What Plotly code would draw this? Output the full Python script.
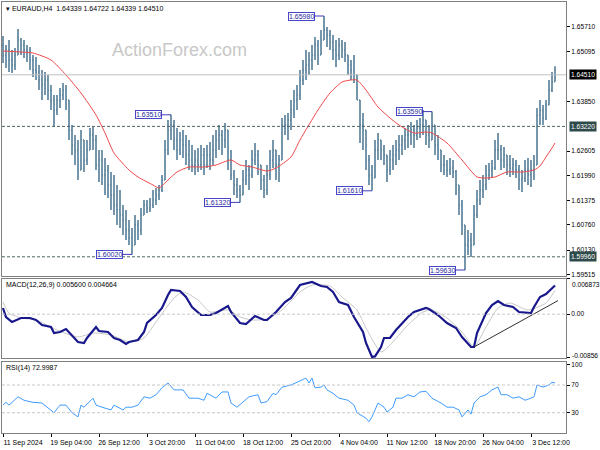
import plotly.graph_objects as go
from plotly.subplots import make_subplots

SYMBOL = "EURAUD,H4"
FIRST_OPEN = 1.65255

HIGHS = [
    1.65480, 1.65255, 1.65380, 1.65130, 1.65180, 1.65655, 1.65430, 1.65380, 1.65255, 1.65205,
    1.65005, 1.64955, 1.64755, 1.64630, 1.64580, 1.64505, 1.64255, 1.64005, 1.64005, 1.64180,
    1.64305, 1.64255, 1.63880, 1.63255, 1.63005, 1.62880, 1.63130, 1.62880, 1.62880, 1.63180,
    1.63205, 1.63005, 1.62630, 1.62630, 1.62430, 1.62255, 1.62080, 1.62005, 1.61755, 1.61630,
    1.61255, 1.61130, 1.60880, 1.60680, 1.61005, 1.60880, 1.61180, 1.61380, 1.61380, 1.61430,
    1.61630, 1.61680, 1.61755, 1.62005, 1.62880, 1.63380, 1.63510, 1.63380, 1.63180, 1.63080,
    1.63130, 1.63005, 1.62880, 1.62755, 1.62630, 1.62680, 1.62755, 1.62680, 1.62755, 1.62830,
    1.63005, 1.63130, 1.63255, 1.63130, 1.63305, 1.63130, 1.62630, 1.62130, 1.61930, 1.61755,
    1.62130, 1.62380, 1.62255, 1.62630, 1.62805, 1.62630, 1.62255, 1.62005, 1.62255, 1.62630,
    1.62880, 1.62630, 1.62505, 1.63430, 1.63505, 1.63555, 1.63880, 1.64130, 1.64255, 1.64630,
    1.64880, 1.65130, 1.65080, 1.65255, 1.65455, 1.65380, 1.65630, 1.65980, 1.65705, 1.65630,
    1.65505, 1.65380, 1.65430, 1.65380, 1.65330, 1.65005, 1.64880, 1.65005, 1.64505, 1.63880,
    1.63555, 1.63130, 1.62505, 1.62255, 1.62880, 1.63055, 1.62880, 1.62755, 1.62505, 1.62630,
    1.62755, 1.62880, 1.63005, 1.63005, 1.63180, 1.63255, 1.63330, 1.63255, 1.63380, 1.63430,
    1.63630, 1.63380, 1.63255, 1.63590, 1.63255, 1.63005, 1.62630, 1.62505, 1.62380, 1.62430,
    1.62380, 1.62130, 1.61755, 1.61380, 1.60755, 1.60630, 1.60555, 1.61255, 1.61630, 1.61880,
    1.62005, 1.62255, 1.62305, 1.62380, 1.62880, 1.63055, 1.62755, 1.62705, 1.62505, 1.62505,
    1.62430, 1.62380, 1.62255, 1.62130, 1.62380, 1.62430, 1.62380, 1.62505, 1.63680, 1.63880,
    1.63755, 1.63880, 1.64380, 1.64580, 1.64722,
]
LOWS = [
    1.64805, 1.64680, 1.64580, 1.64555, 1.64630, 1.65005, 1.65005, 1.64930, 1.64830, 1.64630,
    1.64455, 1.64380, 1.64130, 1.63880, 1.64005, 1.63880, 1.63630, 1.63205, 1.63505, 1.63680,
    1.63880, 1.63630, 1.62880, 1.62505, 1.62255, 1.61880, 1.62130, 1.62080, 1.62255, 1.62630,
    1.62630, 1.62130, 1.61830, 1.61755, 1.61505, 1.61430, 1.61130, 1.61005, 1.60755, 1.60680,
    1.60505, 1.60380, 1.60255, 1.60020, 1.60255, 1.60380, 1.60505, 1.61005, 1.61055, 1.61080,
    1.61180, 1.61255, 1.61380, 1.61580, 1.61880, 1.62505, 1.62880, 1.62630, 1.62380, 1.62505,
    1.62430, 1.62255, 1.62130, 1.62080, 1.62005, 1.62080, 1.62130, 1.62005, 1.62180, 1.62130,
    1.62255, 1.62430, 1.62630, 1.62505, 1.62680, 1.62130, 1.61880, 1.61505, 1.61430, 1.61320,
    1.61505, 1.61755, 1.61630, 1.61930, 1.62255, 1.62005, 1.61630, 1.61430, 1.61505, 1.61880,
    1.62180, 1.61880, 1.61830, 1.62380, 1.63005, 1.62880, 1.63130, 1.63430, 1.63630, 1.63880,
    1.64255, 1.64380, 1.64505, 1.64630, 1.64880, 1.64755, 1.65005, 1.65380, 1.65205, 1.65130,
    1.64880, 1.64705, 1.64880, 1.64930, 1.64830, 1.64505, 1.64380, 1.64305, 1.63880, 1.62805,
    1.62630, 1.62130, 1.61755, 1.61610, 1.61930, 1.62380, 1.62380, 1.62255, 1.61830, 1.62005,
    1.62130, 1.62255, 1.62380, 1.62505, 1.62630, 1.62680, 1.62755, 1.62680, 1.62880, 1.62930,
    1.63005, 1.62755, 1.62680, 1.62880, 1.62505, 1.62380, 1.62080, 1.62005, 1.61955, 1.62005,
    1.61930, 1.61505, 1.61005, 1.60505, 1.59630, 1.60005, 1.59955, 1.60255, 1.60930, 1.61255,
    1.61430, 1.61630, 1.61880, 1.61930, 1.62130, 1.62380, 1.62130, 1.62180, 1.62005, 1.61955,
    1.62005, 1.61930, 1.61630, 1.61580, 1.61830, 1.61755, 1.61705, 1.61880, 1.62255, 1.63255,
    1.63255, 1.63380, 1.63755, 1.64080, 1.64339,
]
CLOSES = [
    1.65005, 1.65130, 1.64880, 1.64755, 1.65005, 1.65380, 1.65255, 1.65130, 1.65080, 1.64880,
    1.64630, 1.64580, 1.64380, 1.64255, 1.64380, 1.64130, 1.63880, 1.63630, 1.63880, 1.64005,
    1.64130, 1.63880, 1.63130, 1.62755, 1.62630, 1.62130, 1.62880, 1.62380, 1.62630, 1.63005,
    1.62880, 1.62255, 1.62380, 1.62005, 1.62130, 1.61755, 1.61505, 1.61255, 1.61130, 1.61005,
    1.60880, 1.60630, 1.60430, 1.60255, 1.60755, 1.60630, 1.61005, 1.61255, 1.61180, 1.61255,
    1.61380, 1.61505, 1.61630, 1.61880, 1.62630, 1.63130, 1.63255, 1.62880, 1.62630, 1.62880,
    1.62755, 1.62505, 1.62380, 1.62255, 1.62380, 1.62255, 1.62505, 1.62255, 1.62505, 1.62380,
    1.62630, 1.62880, 1.63005, 1.62880, 1.63130, 1.62380, 1.62005, 1.61755, 1.61630, 1.61505,
    1.61880, 1.62130, 1.62005, 1.62380, 1.62505, 1.62255, 1.61880, 1.61630, 1.62005, 1.62380,
    1.62630, 1.62255, 1.62380, 1.63255, 1.63255, 1.63380, 1.63630, 1.63880, 1.64005, 1.64380,
    1.64630, 1.64755, 1.64880, 1.65005, 1.65255, 1.65005, 1.65380, 1.65630, 1.65505, 1.65330,
    1.65130, 1.65005, 1.65255, 1.65130, 1.65005, 1.64755, 1.64630, 1.64505, 1.63880, 1.63255,
    1.63130, 1.62380, 1.62005, 1.61930, 1.62630, 1.62880, 1.62630, 1.62505, 1.62130, 1.62380,
    1.62505, 1.62630, 1.62755, 1.62880, 1.63005, 1.63005, 1.63130, 1.63005, 1.63180, 1.63255,
    1.63380, 1.63005, 1.62880, 1.63255, 1.62755, 1.62630, 1.62255, 1.62255, 1.62130, 1.62180,
    1.62080, 1.61755, 1.61255, 1.60755, 1.60255, 1.60380, 1.60255, 1.61005, 1.61380, 1.61630,
    1.61755, 1.62005, 1.62130, 1.62180, 1.62630, 1.62630, 1.62380, 1.62505, 1.62255, 1.62180,
    1.62255, 1.62130, 1.61880, 1.61930, 1.62130, 1.62005, 1.62130, 1.62255, 1.63505, 1.63630,
    1.63430, 1.63755, 1.64130, 1.64339, 1.64510,
]
BARS = list(range(len(CLOSES)))
# FX bars open at the previous bar's close
OPENS = [FIRST_OPEN] + CLOSES[:-1]

# Moving average (red line)
MA_IDX = [0, 6, 10, 16, 21, 26, 31, 34, 37, 42, 45, 50, 52, 55, 58, 62, 67, 71, 76, 79,
          83, 88, 91, 96, 99, 105, 109, 113, 116, 118, 121, 125, 129, 132, 137, 141, 143, 148, 153, 158,
          161, 164, 168, 173, 177, 179, 181, 183, 184]
MA_VAL = [1.65105, 1.65080, 1.65055, 1.64880, 1.64505, 1.64055, 1.63505, 1.63055, 1.62555, 1.62130,
          1.61955, 1.61755, 1.61680, 1.61880, 1.62080, 1.62205, 1.62205, 1.62255, 1.62380, 1.62255,
          1.62205, 1.62105, 1.62180, 1.62455, 1.62880, 1.63630, 1.64055, 1.64330, 1.64380, 1.64380,
          1.64130, 1.63705, 1.63430, 1.63255, 1.63055, 1.63080, 1.63055, 1.62805, 1.62380, 1.61955,
          1.61930, 1.61955, 1.62080, 1.62080, 1.62130, 1.62230, 1.62455, 1.62680, 1.62805]

# MACD(12,26,9)
MACD_IDX = [0, 1, 3, 6, 9, 11, 13, 16, 17, 19, 21, 23, 25, 27, 28, 31, 32, 35, 37, 39,
            41, 42, 45, 47, 48, 51, 53, 55, 56, 59, 61, 63, 66, 69, 71, 75, 76, 79, 81, 84,
            87, 88, 91, 94, 96, 99, 103, 106, 108, 110, 112, 115, 117, 120, 121, 123, 124, 126, 127, 129,
            131, 135, 137, 141, 142, 145, 148, 151, 153, 156, 157, 158, 161, 163, 165, 167, 170, 172, 176, 177,
            179, 181, 184]
MACD_VAL = [0.001208, -0.000550, -0.001527, -0.000746, -0.000746, -0.001136, -0.002113, -0.002504, -0.003676, -0.003481,
            -0.002895, -0.004067, -0.005434, -0.005629, -0.004653, -0.002504, -0.003285, -0.003481, -0.004653, -0.005043,
            -0.005825, -0.005434, -0.005043, -0.003481, -0.001722, -0.000160, 0.001208, 0.003747, 0.004724, 0.004529,
            0.003357, 0.001403, -0.000160, -0.000160, 0.000231, 0.001599, 0.000427, -0.001722, -0.001918, -0.000355,
            -0.001136, -0.001136, 0.000427, 0.002380, 0.003161, 0.005701, 0.006300, 0.005506, 0.005310, 0.004333,
            0.002380, 0.001794, -0.000550, -0.003481, -0.005629, -0.008350, -0.008250, -0.006411, -0.004653, -0.004653,
            -0.003090, -0.000550, 0.000427, 0.001208, 0.001013, -0.000160, -0.001722, -0.002699, -0.004457, -0.006411,
            -0.006411, -0.003676, 0.000231, 0.001794, 0.002575, 0.001794, 0.001403, 0.000427, 0.000231, 0.001403,
            0.003357, 0.003943, 0.005600]
SIG_IDX = [0, 2, 6, 11, 18, 25, 30, 36, 42, 47, 51, 57, 60, 65, 69, 75, 79, 83, 88, 93,
           99, 103, 109, 113, 118, 121, 126, 129, 135, 140, 143, 148, 153, 157, 161, 165, 169, 175, 181, 184]
SIG_VAL = [0.002380, 0.000231, -0.000746, -0.001136, -0.003090, -0.004457, -0.003676, -0.004067, -0.005434, -0.004653,
           -0.001527, 0.003161, 0.004333, 0.002771, 0.000427, 0.000817, -0.000550, -0.001136, -0.000941, 0.000817,
           0.004333, 0.005701, 0.005506, 0.003357, 0.000817, -0.002699, -0.007388, -0.006020, -0.002113, 0.000427,
           0.000817, -0.000746, -0.003481, -0.006411, -0.002504, 0.001208, 0.002185, 0.000817, 0.002185, 0.004664]
MACD_MAX, MACD_MIN = 0.006873, -0.00856
TREND_IDX = [157, 185]
TREND_VAL = [-0.006411, 0.002650]

# RSI(14)
RSI_IDX = [0, 1, 2, 5, 7, 10, 13, 15, 17, 19, 21, 23, 25, 26, 27, 30, 31, 33, 36, 37,
           40, 41, 43, 45, 47, 49, 51, 53, 55, 57, 60, 62, 65, 67, 68, 71, 73, 75, 76, 78,
           80, 82, 85, 86, 88, 90, 91, 93, 96, 98, 99, 101, 102, 103, 104, 106, 107, 108, 110, 112,
           115, 117, 118, 121, 122, 123, 125, 127, 128, 130, 131, 133, 135, 137, 139, 141, 143, 146, 148, 150,
           152, 153, 155, 156, 157, 159, 161, 163, 165, 166, 168, 170, 172, 174, 176, 177, 178, 180, 182, 183,
           184]
RSI_VAL = [41, 45, 41, 53, 48, 45, 44, 37, 30, 41, 41, 30, 24, 41, 38, 51, 41, 38, 34, 41,
           34, 38, 38, 41, 53, 51, 56, 66, 73, 63, 63, 51, 51, 48, 58, 51, 60, 60, 44, 38,
           46, 53, 56, 44, 46, 58, 56, 67, 70, 74, 77, 80, 73, 80, 66, 67, 70, 63, 58, 51,
           48, 41, 30, 22, 17, 24, 44, 38, 31, 38, 51, 51, 56, 53, 60, 61, 51, 44, 38, 38,
           34, 24, 34, 28, 44, 53, 56, 63, 67, 56, 56, 51, 53, 48, 51, 53, 70, 67, 70, 74,
           72.9987]
RSI_LEVELS = [70, 30]
RSI_TICKS = [100, 70, 30, 0]

# axis labels
PRICE_TICKS = [1.65710, 1.65095, 1.63850, 1.62605, 1.61990, 1.61375, 1.60760, 1.60130, 1.59515]
LEVELS = [1.63220, 1.59960]
TICK_IDX = [0, 16, 32, 48, 64, 80, 96, 112, 128, 144, 160, 176]
TICK_TEXT = ["11 Sep 2024", "19 Sep 04:00", "26 Sep 12:00", "3 Oct 20:00", "11 Oct 04:00", "18 Oct 12:00",
             "25 Oct 20:00", "4 Nov 04:00", "11 Nov 12:00", "18 Nov 20:00", "26 Nov 04:00", "3 Dec 12:00"]
# swing labels (bar indices)
SWING_HIGH_IDX = [107, 56, 143]
SWING_LOW_IDX = [43, 79, 123, 154]

BAR_C = "#4a7590"
FRAME = "#808080"
FONT = "Arial"
AX_SIZE = 6.6

fig = make_subplots(rows=3, cols=1, shared_xaxes=True, vertical_spacing=0.0)

fig.add_trace(go.Ohlc(x=BARS, open=OPENS, high=HIGHS, low=LOWS, close=CLOSES,
                      increasing=dict(line=dict(color=BAR_C, width=1.5)),
                      decreasing=dict(line=dict(color=BAR_C, width=1.5)),
                      tickwidth=0.3, hoverinfo="skip", showlegend=False), row=1, col=1)
fig.add_trace(go.Scatter(x=MA_IDX, y=MA_VAL, mode="lines", line=dict(color="#f04848", width=1, shape="spline", smoothing=0.6),
                         hoverinfo="skip", showlegend=False), row=1, col=1)

fig.add_trace(go.Scatter(x=SIG_IDX, y=SIG_VAL, mode="lines", line=dict(color="#c8c8c8", width=1, shape="spline", smoothing=0.6),
                         hoverinfo="skip", showlegend=False), row=2, col=1)
fig.add_trace(go.Scatter(x=MACD_IDX, y=MACD_VAL, mode="lines", line=dict(color="#18188c", width=2.2),
                         hoverinfo="skip", showlegend=False), row=2, col=1)
fig.add_trace(go.Scatter(x=TREND_IDX, y=TREND_VAL, mode="lines", line=dict(color="#303030", width=1),
                         hoverinfo="skip", showlegend=False), row=2, col=1)

fig.add_trace(go.Scatter(x=RSI_IDX, y=RSI_VAL, mode="lines", line=dict(color="#3f9cff", width=1),
                         hoverinfo="skip", showlegend=False), row=3, col=1)

# horizontal lines
fig.add_hline(y=CLOSES[-1], line=dict(color="#c0c0c0", width=1), row=1, col=1)
for lv in LEVELS:
    fig.add_hline(y=lv, line=dict(color="#4f6466", width=1, dash="3px,2px"), row=1, col=1)
fig.add_hline(y=0, line=dict(color="#c8c8c8", width=1, dash="3px,2px"), row=2, col=1)
for lv in RSI_LEVELS:
    fig.add_hline(y=lv, line=dict(color="#c8c8c8", width=1, dash="3px,2px"), row=3, col=1)

fig.update_layout(width=600, height=450, margin=dict(l=2, r=34, t=2, b=17),
                  paper_bgcolor="white", plot_bgcolor="white", showlegend=False,
                  font=dict(family=FONT, size=7, color="black"))

fig.update_xaxes(range=[-0.333, 187.667], showgrid=False, zeroline=False, showline=True, mirror=True,
                 linecolor=FRAME, linewidth=1, rangeslider_visible=False, ticks="", showticklabels=False)
fig.update_xaxes(row=3, col=1, tickmode="array", tickvals=TICK_IDX, ticktext=TICK_TEXT, showticklabels=True,
                 ticks="outside", ticklen=3, tickcolor="black", ticklabelshift=20, ticklabelstandoff=0,
                 tickfont=dict(family=FONT, size=7, color="black"))

fig.update_yaxes(side="right", showgrid=False, zeroline=False, showline=True, mirror=True, linecolor=FRAME,
                 linewidth=1, ticks="outside", ticklen=3, tickcolor="black", ticklabeloverflow="allow",
                 tickfont=dict(family=FONT, size=AX_SIZE, color="black"))
fig.update_yaxes(row=1, col=1, domain=[0.36427, 1.0], range=[1.5948, 1.6633], tickmode="array",
                 tickvals=PRICE_TICKS, ticktext=[f"{v:.5f}" for v in PRICE_TICKS])
fig.update_yaxes(row=2, col=1, domain=[0.17401, 0.35731], range=[MACD_MIN, MACD_MAX], tickmode="array",
                 tickvals=[MACD_MAX, 0, MACD_MIN], ticktext=["", "0.00", ""])
fig.update_yaxes(row=3, col=1, domain=[0.0, 0.16473], range=[0.72, 103.25], tickmode="array",
                 tickvals=RSI_TICKS, ticktext=[str(v) for v in RSI_TICKS])

ann = []
ann.append(dict(xref="paper", yref="paper", x=0.004, y=0.986, xanchor="left", yanchor="middle", showarrow=False,
                text=f"▾ {SYMBOL}  {OPENS[-1]:.5f} {HIGHS[-1]:.5f} {LOWS[-1]:.5f} {CLOSES[-1]:.5f}",
                font=dict(family=FONT, size=7, color="black")))
ann.append(dict(xref="paper", yref="paper", x=0.3156, y=0.8886, xanchor="center", yanchor="middle", showarrow=False,
                text="ActionForex.com", font=dict(family=FONT, size=18, color="#c8c8c8")))
ann.append(dict(xref="paper", yref="paper", x=0.004, y=0.3434, xanchor="left", yanchor="middle", showarrow=False,
                text=f"MACD(12,26,9) {MACD_VAL[-1]:.6f} {SIG_VAL[-1]:.6f}", font=dict(family=FONT, size=7, color="black")))
ann.append(dict(xref="paper", yref="paper", x=0.004, y=0.1508, xanchor="left", yanchor="middle", showarrow=False,
                text=f"RSI(14) {RSI_VAL[-1]:.4f}", font=dict(family=FONT, size=7, color="black")))

# MACD window max / min labels, clamped inside the window (paper positions)
for txt, yp in [(f"{MACD_MAX:.6f}", 0.3434), (f"{MACD_MIN:.5f}", 0.1787)]:
    ann.append(dict(xref="paper", yref="paper", x=1.0, y=yp, xanchor="left", yanchor="middle", xshift=4,
                    showarrow=False, text=txt, font=dict(family=FONT, size=AX_SIZE, color="black")))

# boxed right-axis price labels
for val, bg in [(CLOSES[-1], "#000000"), (LEVELS[0], "#2f4a4a"), (LEVELS[1], "#2f4a4a")]:
    ann.append(dict(xref="paper", yref="y", x=1, y=val, xanchor="left", yanchor="middle", xshift=3,
                    showarrow=False, text=f"{val:.5f}", bgcolor=bg, borderpad=1,
                    font=dict(family=FONT, size=AX_SIZE, color="white")))

# swing high / low labels
swings = [(i, HIGHS[i]) for i in SWING_HIGH_IDX] + [(i, LOWS[i]) for i in SWING_LOW_IDX]
for i, v in swings:
    ann.append(dict(xref="x", yref="y", x=i, y=v, text=f"{v:.5f}", showarrow=True, arrowhead=0,
                    arrowwidth=1, arrowcolor="#3c3cb4", ax=-23, ay=0, bordercolor="#4646c8", borderwidth=1,
                    borderpad=0, bgcolor="white", font=dict(family=FONT, size=7, color="#2828a0")))

fig.update_layout(annotations=ann)
fig.write_html("out.html", config={"displayModeBar": False},
               post_script="document.body.style.margin='0px';document.body.style.overflow='hidden';")
